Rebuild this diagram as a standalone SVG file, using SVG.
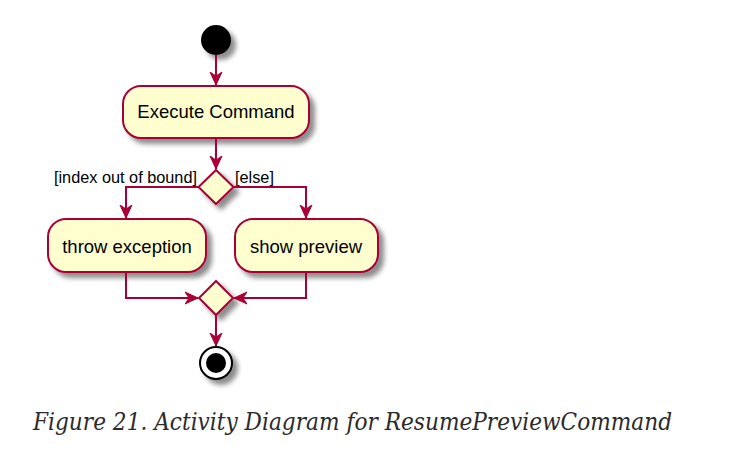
<svg xmlns="http://www.w3.org/2000/svg" width="741" height="476" viewBox="0 0 741 476">
<defs>
<filter id="sh" x="-20%" y="-20%" width="150%" height="160%">
<feGaussianBlur in="SourceAlpha" stdDeviation="2.5"/>
<feOffset dx="5" dy="5" result="b"/>
<feComponentTransfer><feFuncA type="linear" slope="0.45"/></feComponentTransfer>
<feMerge><feMergeNode/><feMergeNode in="SourceGraphic"/></feMerge>
</filter>
<marker id="arr" viewBox="0 0 14 14" markerWidth="14" markerHeight="14" refX="13" refY="7" orient="auto" markerUnits="userSpaceOnUse">
<path d="M0,1 L13,7 L0,13 L4,7 Z" fill="#A80036" stroke="#A80036" stroke-width="1"/>
</marker>
</defs>
<style>
.act{fill:#FEFECE;stroke:#A80036;stroke-width:2}
.lbl{font-family:"Liberation Sans",Arial,sans-serif;font-size:18.5px;fill:#000}
.gl{font-family:"Liberation Sans",Arial,sans-serif;font-size:16.3px;fill:#000}
.ln{fill:none;stroke:#A80036;stroke-width:2}
.cap{font-family:"DejaVu Serif","Liberation Serif",serif;font-style:italic;font-size:24px;fill:#2b2b2b}
</style>
<rect width="741" height="476" fill="#fff"/>
<g id="start"><circle cx="216" cy="40" r="15" fill="#000" filter="url(#sh)"/></g>
<g id="execute"><rect class="act" x="123" y="86" width="186" height="52" rx="18" filter="url(#sh)"/><text class="lbl" x="216" y="118" text-anchor="middle">Execute Command</text></g>
<g id="decision"><polygon class="act" points="216,170 233.5,187 216,204 198.5,187" filter="url(#sh)"/></g>
<g id="throw"><rect class="act" x="48" y="219" width="158" height="53" rx="18" filter="url(#sh)"/><text class="lbl" x="127" y="253" text-anchor="middle">throw exception</text></g>
<g id="show"><rect class="act" x="235" y="219" width="143" height="53" rx="18" filter="url(#sh)"/><text class="lbl" x="306" y="253" text-anchor="middle">show preview</text></g>
<g id="merge"><polygon class="act" points="216,281 233,298 216,315 199,298" filter="url(#sh)"/></g>
<g id="end"><circle cx="216" cy="363" r="16" fill="#fff" stroke="#000" stroke-width="2" filter="url(#sh)"/><circle cx="216" cy="363" r="10" fill="#000"/></g>
<g id="connectors">
<line class="ln" x1="216" y1="55" x2="216" y2="85" marker-end="url(#arr)"/>
<line class="ln" x1="216" y1="138" x2="216" y2="169" marker-end="url(#arr)"/>
<polyline class="ln" points="198.5,187 126,187 126,218" marker-end="url(#arr)"/>
<polyline class="ln" points="233.5,187 306,187 306,218" marker-end="url(#arr)"/>
<polyline class="ln" points="126,272 126,298 198,298" marker-end="url(#arr)"/>
<polyline class="ln" points="306,272 306,298 234,298" marker-end="url(#arr)"/>
<line class="ln" x1="216" y1="315" x2="216" y2="346" marker-end="url(#arr)"/>
<text class="gl" x="197" y="183" text-anchor="end">[index out of bound]</text>
<text class="gl" x="235" y="183">[else]</text>
</g>
<text class="cap" x="33" y="430" textLength="639" lengthAdjust="spacingAndGlyphs">Figure 21. Activity Diagram for ResumePreviewCommand</text>
</svg>
